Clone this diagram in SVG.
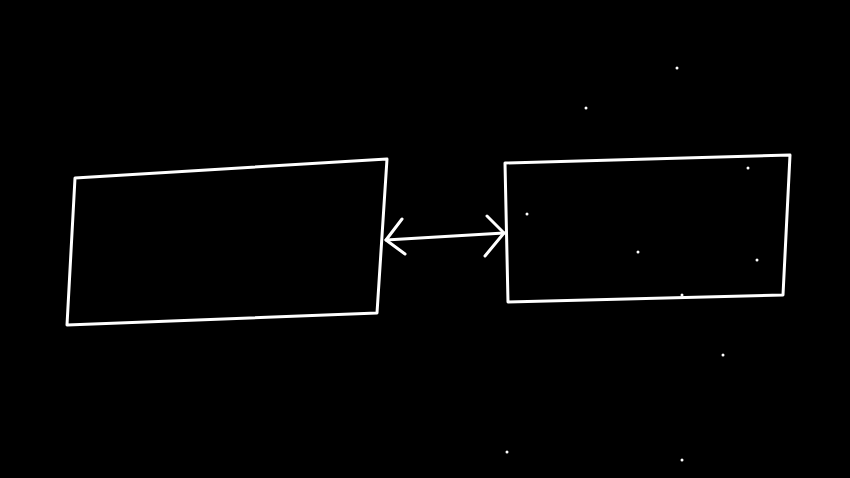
<svg xmlns="http://www.w3.org/2000/svg" width="850" height="478" viewBox="0 0 850 478">
<style>
.box{fill:none;stroke:#fff;stroke-width:3;stroke-linejoin:round;stroke-linecap:round}
.conn{fill:none;stroke:#fff;stroke-width:3;stroke-linecap:round;stroke-linejoin:round}
.dot{fill:#fff}
</style>
<rect width="850" height="478" fill="#000"/>
<g id="node-left">
<path class="box" d="M75,178 L387,159 L377,313 L67,325 Z"/>
</g>
<g id="node-right">
<path class="box" d="M505,163 L790,155 L783,295 L508,302 Z"/>
</g>
<g id="connectors">
<path class="conn" d="M386,240 L504,233"/>
<path class="conn" d="M402,219 L386,240 L405,254"/>
<path class="conn" d="M487,216 L504,233 L485,256"/>
</g>
<g id="specks">
<circle class="dot" cx="677" cy="68" r="1.5"/>
<circle class="dot" cx="586" cy="108" r="1.5"/>
<circle class="dot" cx="748" cy="168" r="1.5"/>
<circle class="dot" cx="527" cy="214" r="1.5"/>
<circle class="dot" cx="757" cy="260" r="1.5"/>
<circle class="dot" cx="638" cy="252" r="1.5"/>
<circle class="dot" cx="682" cy="295" r="1.5"/>
<circle class="dot" cx="723" cy="355" r="1.5"/>
<circle class="dot" cx="507" cy="452" r="1.5"/>
<circle class="dot" cx="682" cy="460" r="1.5"/>
</g>
</svg>
